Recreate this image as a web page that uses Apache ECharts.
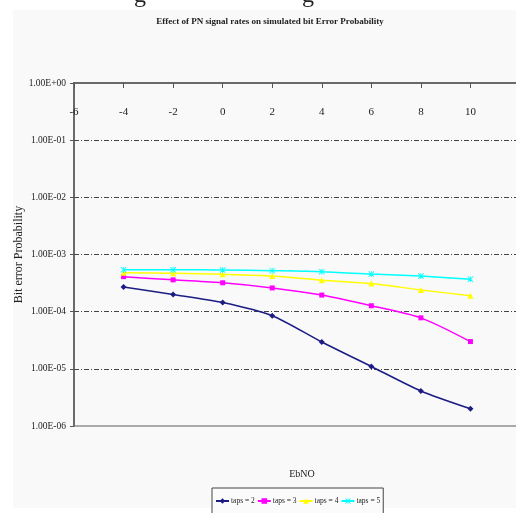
<!DOCTYPE html>
<html>
<head>
<meta charset="utf-8">
<script src="https://cdn.jsdelivr.net/npm/echarts@6/dist/echarts.min.js"></script>
<style>
html,body{margin:0;padding:0;background:#fff;}
#chart{width:516px;height:513px;}
</style>
</head>
<body>
<div id="chart"></div>
<script>
const ebno = [-4, -2, 0, 2, 4, 6, 8, 10];
const taps2 = [2.7e-4, 2.0e-4, 1.45e-4, 8.5e-5, 2.95e-5, 1.1e-5, 4.1e-6, 2.0e-6];
const taps3 = [4.1e-4, 3.6e-4, 3.2e-4, 2.6e-4, 1.95e-4, 1.27e-4, 7.8e-5, 3.0e-5];
const taps4 = [4.8e-4, 4.7e-4, 4.5e-4, 4.2e-4, 3.55e-4, 3.1e-4, 2.4e-4, 1.9e-4];
const taps5 = [5.4e-4, 5.4e-4, 5.35e-4, 5.2e-4, 5.0e-4, 4.55e-4, 4.2e-4, 3.7e-4];
const seriesNames = ['taps = 2', 'taps = 3', 'taps = 4', 'taps = 5'];
const yTickLabels = ['1.00E-06', '1.00E-05', '1.00E-04', '1.00E-03', '1.00E-02', '1.00E-01', '1.00E+00'];

const serif = '"Liberation Serif", "Times New Roman", serif';
const asterisk = 'path://M1,0 L5,4 L9,0 L10,1 L6,5 L10,9 L9,10 L5,6 L1,10 L0,9 L4,5 L0,1 Z M4.4,0 L5.6,0 L5.6,10 L4.4,10 Z';

function mk(name, data, color, symbol, size) {
  return {
    name: name,
    type: 'line',
    data: ebno.map((x, i) => [x, data[i]]),
    smooth: 0.25,
    symbol: symbol,
    symbolSize: size,
    lineStyle: { color: color, width: 1.5 },
    itemStyle: { color: color },
    z: 3
  };
}

const chart = echarts.init(document.getElementById('chart'));
chart.setOption({
  animation: false,
  backgroundColor: '#ffffff',
  graphic: [
    { type: 'rect', shape: { x: 13, y: 10, width: 503, height: 498 }, style: { fill: '#f9f9f9' }, z: -10 },
    { type: 'text', left: 134, top: -16, style: { text: 'g', font: '24px ' + serif, fill: '#222' }, z: -5 },
    { type: 'text', left: 302, top: -16, style: { text: 'g', font: '24px ' + serif, fill: '#222' }, z: -5 }
  ],
  title: [
    {
      text: 'Effect of PN signal rates on simulated bit Error Probability',
      left: 265, top: 12, textAlign: 'center',
      textStyle: { fontFamily: serif, fontSize: 9, fontWeight: 'bold', color: '#222' }
    },
    {
      text: 'EbNO',
      left: 297, top: 464, textAlign: 'center',
      textStyle: { fontFamily: serif, fontSize: 10, fontWeight: 'normal', color: '#222' }
    }
  ],
  legend: {
    data: seriesNames,
    left: 212, top: 488,
    orient: 'horizontal',
    backgroundColor: '#fbfbfb',
    borderColor: '#444', borderWidth: 1,
    padding: [9, 3, 12, 3],
    itemGap: 2, itemWidth: 13, itemHeight: 7,
    textStyle: { fontFamily: serif, fontSize: 7.5, color: '#222', padding: [0, 0, 0, -3] }
  },
  grid: {
    left: 74, top: 83, width: 446, height: 343,
    outerBoundsMode: 'none',
    containLabel: false,
    show: true, borderColor: '#aaaaaa', borderWidth: 2, backgroundColor: 'transparent'
  },
  xAxis: {
    type: 'value', position: 'top',
    min: -6, max: 12, interval: 2,
    axisLine: { onZero: false, lineStyle: { color: '#555', width: 1.5 } },
    axisTick: { inside: true, length: 5, lineStyle: { color: '#555' } },
    axisLabel: { inside: true, margin: 24, showMaxLabel: false, fontFamily: serif, fontSize: 11, color: '#222' },
    splitLine: { show: false }
  },
  yAxis: {
    type: 'log', logBase: 10, min: 1e-6, max: 1,
    name: 'Bit error Probability',
    nameLocation: 'middle', nameGap: 49, nameRotate: 90,
    nameMoveOverlap: false,
    nameTextStyle: { fontFamily: serif, fontSize: 12, color: '#222' },
    axisLine: { show: true, onZero: false, lineStyle: { color: '#555', width: 1.5 } },
    axisTick: { show: true, length: 4, lineStyle: { color: '#555' } },
    axisLabel: {
      margin: 8, fontFamily: serif, fontSize: 9.5, color: '#222',
      formatter: function (v) {
        const e = Math.round(Math.log10(v));
        return yTickLabels[e + 6];
      }
    },
    splitLine: { show: true, showMinLine: false, showMaxLine: false, lineStyle: { color: '#444', width: 1, type: [5, 2, 1, 2] } },
    minorTick: { show: false }
  },
  series: [
    mk(seriesNames[0], taps2, '#1c1c84', 'diamond', 6),
    mk(seriesNames[1], taps3, '#ff00ff', 'rect', 5),
    mk(seriesNames[2], taps4, '#ffff00', 'triangle', 6),
    mk(seriesNames[3], taps5, '#00ffff', asterisk, 6)
  ]
});
</script>
</body>
</html>
